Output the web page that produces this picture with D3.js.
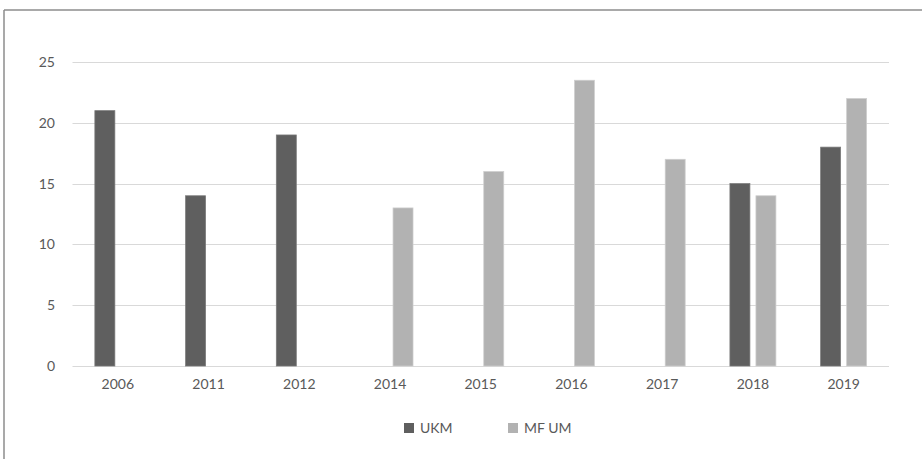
<!DOCTYPE html>
<html>
<head>
<meta charset="utf-8">
<script src="https://cdn.jsdelivr.net/npm/d3@7"></script>
<style>
  body { margin: 0; background: #fff; }
  text { font-family: Lato, "Open Sans", sans-serif; fill: #595959; }
</style>
</head>
<body>
<div id="viz"></div>
<script>
var width = 922,
  height = 459;

// data
var years = ['2006', '2011', '2012', '2014', '2015', '2016', '2017', '2018', '2019'];
var seriesNames = ['UKM', 'MF UM'];
var ukm = [21, 14, 19, null, null, null, null, 15, 18];
var mfum = [null, null, null, 13, 16, 23.5, 17, 14, 22];
var yTicks = [0, 5, 10, 15, 20, 25];

var colors = { 'UKM': '#5f5f5f', 'MF UM': '#b2b2b2' };
var edges = { 'UKM': '#7a7a7a', 'MF UM': '#cfcfcf' };

var rows = years.map(function (y, i) {
  return { year: y, 'UKM': ukm[i], 'MF UM': mfum[i] };
});

var svg = d3.select('#viz').append('svg')
  .attr('width', width)
  .attr('height', height);

// chart area frame (only top and left edges visible)
svg.append('line')
  .attr('x1', 4).attr('x2', width).attr('y1', 10).attr('y2', 10)
  .attr('stroke', '#8c8c8c').attr('stroke-width', 1.5);
svg.append('line')
  .attr('x1', 4).attr('x2', 4).attr('y1', 10).attr('y2', height)
  .attr('stroke', '#8c8c8c').attr('stroke-width', 1.5);

var plotLeft = 72.5, plotRight = 889, plotTop = 62, plotBottom = 366;

var x0 = d3.scaleBand().domain(years).range([plotLeft, plotRight]).padding(0);
var groupW = 46;
var x1 = d3.scaleBand().domain(seriesNames)
  .range([(x0.bandwidth() - groupW) / 2, (x0.bandwidth() + groupW) / 2])
  .paddingInner(0.231).paddingOuter(0);
var y = d3.scaleLinear().domain([0, 25]).range([plotBottom, plotTop]);

// gridlines
svg.append('g').selectAll('line')
  .data(yTicks)
  .enter().append('line')
  .attr('x1', plotLeft).attr('x2', plotRight)
  .attr('y1', function (d) { return Math.round(y(d)) + 0.5; })
  .attr('y2', function (d) { return Math.round(y(d)) + 0.5; })
  .attr('stroke', '#d9d9d9')
  .attr('stroke-width', 1);

// y tick labels
svg.append('g').selectAll('text')
  .data(yTicks)
  .enter().append('text')
  .attr('x', 55)
  .attr('y', function (d) { return y(d); })
  .attr('dy', '0.35em')
  .attr('text-anchor', 'end')
  .attr('font-size', 14)
  .text(function (d) { return d; });

// bars
var groups = svg.append('g').selectAll('g')
  .data(rows)
  .enter().append('g')
  .attr('transform', function (d) { return 'translate(' + x0(d.year) + ',0)'; });

groups.selectAll('rect')
  .data(function (d) {
    return seriesNames
      .filter(function (s) { return d[s] != null; })
      .map(function (s) { return { key: s, value: d[s] }; });
  })
  .enter().append('rect')
  .attr('x', function (d) { return x1(d.key); })
  .attr('y', function (d) { return y(d.value); })
  .attr('width', x1.bandwidth())
  .attr('height', function (d) { return y(0) - y(d.value); })
  .attr('fill', function (d) { return colors[d.key]; })
  .attr('stroke', function (d) { return edges[d.key]; })
  .attr('stroke-width', 0.75);

// x labels
svg.append('g').selectAll('text')
  .data(years)
  .enter().append('text')
  .attr('x', function (d) { return x0(d) + x0.bandwidth() / 2; })
  .attr('y', 389)
  .attr('text-anchor', 'middle')
  .attr('font-size', 14)
  .text(function (d) { return d; });

// legend
var legendPos = [404, 508];
var legend = svg.append('g').selectAll('g')
  .data(seriesNames)
  .enter().append('g')
  .attr('transform', function (d, i) { return 'translate(' + legendPos[i] + ',423)'; });

legend.append('rect')
  .attr('width', 10).attr('height', 10)
  .attr('fill', function (d) { return colors[d]; });

legend.append('text')
  .attr('x', 16).attr('y', 5)
  .attr('dy', '0.35em')
  .attr('font-size', 14)
  .text(function (d) { return d; });
</script>
</body>
</html>
